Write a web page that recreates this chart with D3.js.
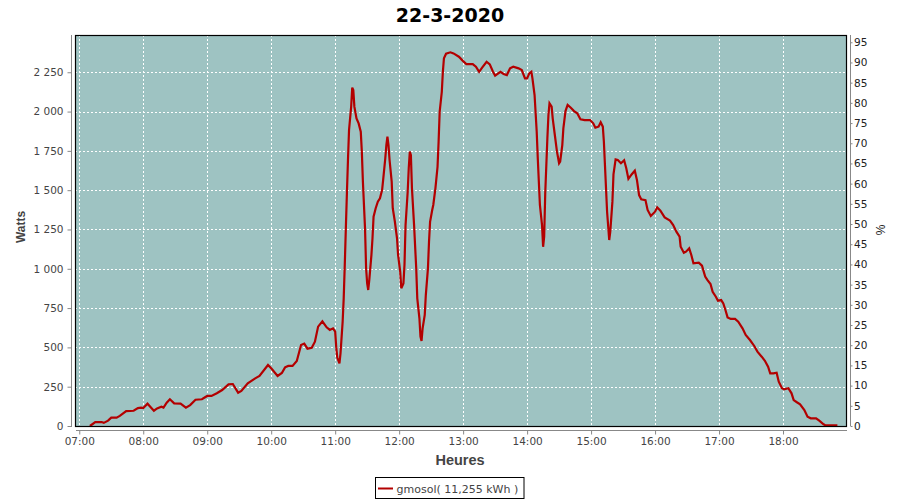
<!DOCTYPE html>
<html>
<head>
<meta charset="utf-8">
<script src="https://cdn.jsdelivr.net/npm/d3@7"></script>
<style>
  html, body { margin: 0; padding: 0; background: #ffffff; }
  svg { display: block; }
</style>
</head>
<body>
<svg id="chart" width="900" height="500"></svg>
<script>
const chartTitle = "22-3-2020";
const seriesName = "gmosol( 11,255 kWh )";
const yLabel = "Watts";
const xLabel = "Heures";
const y2Label = "%";

const hourTicks = ["07:00","08:00","09:00","10:00","11:00","12:00","13:00","14:00","15:00","16:00","17:00","18:00"];
const wattTicks = [0, 250, 500, 750, 1000, 1250, 1500, 1750, 2000, 2250];
const pctTicks = [0,5,10,15,20,25,30,35,40,45,50,55,60,65,70,75,80,85,90,95];

const times = [
"07:10","07:15","07:21","07:23","07:27","07:30","07:35","07:38","07:44","07:51","07:55","07:58",
"08:00","08:04","08:07","08:10","08:13","08:17","08:19","08:22","08:25","08:29","08:35","08:40","08:44","08:49","08:55",
"09:00","09:04","09:09","09:14","09:20","09:24","09:29","09:32","09:38","09:45","09:49","09:57",
"10:00","10:06","10:10","10:13","10:16","10:20","10:24","10:28","10:31","10:34","10:38","10:41","10:44","10:48","10:52","10:55","10:58",
"11:00","11:01","11:02","11:04","11:05","11:07","11:08","11:09","11:10","11:11","11:12","11:13","11:15","11:16","11:17","11:18","11:20","11:22","11:24","11:25","11:26","11:28","11:29","11:30","11:31","11:32","11:34","11:35","11:36","11:38","11:40","11:42","11:44","11:45","11:47","11:48","11:49","11:50","11:51","11:53","11:54","11:56","11:58","11:59",
"12:01","12:02","12:04","12:05","12:06","12:08","12:09","12:10","12:11","12:12","12:14","12:16","12:17","12:19","12:20","12:21","12:22","12:24","12:25","12:27","12:28","12:29","12:31","12:32","12:34","12:36","12:37","12:38","12:40","12:41","12:42","12:44","12:48","12:51","12:56",
"13:00","13:03","13:09","13:12","13:15","13:18","13:22","13:25","13:28","13:30","13:35","13:38","13:41","13:44","13:47","13:52","13:55","13:58",
"14:00","14:02","14:04","14:05","14:07","14:08","14:09","14:10","14:11","14:12","14:14","14:15","14:16","14:17","14:19","14:20","14:21","14:23","14:24","14:26","14:28","14:30","14:31","14:33","14:34","14:36","14:38","14:41","14:44","14:47","14:50","14:54","14:59",
"15:02","15:04","15:07","15:09","15:11","15:12","15:13","15:14","15:15","15:17","15:18","15:20","15:21","15:23","15:25","15:28","15:31","15:33","15:35","15:38","15:41","15:43","15:45","15:47","15:51","15:53","15:56",
"16:00","16:02","16:05","16:09","16:14","16:17","16:20","16:23","16:24","16:27","16:29","16:32","16:34","16:36","16:41","16:44","16:47","16:49","16:52","16:54","16:57","16:59",
"17:02","17:04","17:06","17:08","17:11","17:15","17:18","17:22","17:25","17:29","17:33","17:36","17:40","17:43","17:46","17:48","17:51","17:54","17:56","17:59",
"18:01","18:05","18:08","18:10","18:13","18:16","18:20","18:23","18:26","18:31","18:34","18:38","18:40","18:51"
];
const watts = [
0,25,25,20,34,53,53,64,95,97,114,117,
114,142,119,97,112,123,117,148,170,144,142,117,133,167,170,
191,191,208,229,265,267,212,223,272,303,318,388,
367,318,337,373,382,382,413,515,524,492,498,536,632,666,628,611,621,
600,500,434,398,462,663,812,1024,1257,1480,1692,1883,2031,2152,2137,2031,1957,1925,1872,1745,1554,1257,1003,907,865,929,1088,1194,1331,1385,1427,1448,1501,1565,1703,1787,1840,1787,1692,1554,1385,1299,1194,1088,
981,876,907,1024,1278,1490,1639,1745,1723,1512,1278,1003,812,685,568,541,621,706,833,1003,1172,1299,1374,1406,1512,1649,1808,1999,2126,2253,2339,2368,2377,2370,2349,
2321,2302,2302,2285,2253,2281,2317,2300,2253,2228,2253,2239,2232,2275,2285,2275,2264,2211,
2211,2243,2253,2211,2105,1989,1872,1703,1554,1406,1278,1140,1204,1480,1830,1978,2052,2031,1957,1851,1745,1671,1681,1787,1893,2003,2042,2024,2003,1989,1951,1946,1946,
1925,1897,1904,1932,1904,1808,1660,1512,1363,1183,1236,1427,1600,1696,1692,1671,1690,1640,1572,1600,1624,1565,1469,1442,1437,1374,1336,
1363,1391,1369,1327,1306,1278,1236,1204,1140,1102,1109,1130,1088,1035,1039,1020,950,929,903,854,822,797,
801,780,738,691,681,681,663,621,579,547,509,473,441,415,377,335,335,339,282,240,
233,240,208,165,151,138,102,59,49,49,34,11,4,4
];

const xDomain = ["06:56", "19:00"];
const wattMax = 2487;
const pctMax = 96.8;

const toMin = s => { const p = s.split(":"); return +p[0] * 60 + +p[1]; };
const fmtHM = m => String(Math.floor(m / 60)).padStart(2, "0") + ":" + String(m % 60).padStart(2, "0");

const svg = d3.select("#chart");
const pL = 75, pR = 847, pT = 35, pB = 426;

const x = d3.scaleLinear().domain(xDomain.map(toMin)).range([pL, pR]);
const y = d3.scaleLinear().domain([0, wattMax]).range([pB, pT]);
const y2 = d3.scaleLinear().domain([0, pctMax]).range([pB, pT]);

const data = times.map((t, i) => ({ t: toMin(t), w: watts[i] }));

// plot background
svg.append("rect")
  .attr("x", pL).attr("y", pT)
  .attr("width", pR - pL).attr("height", pB - pT)
  .attr("fill", "#9ec3c2");

// grid
const grid = svg.append("g").attr("stroke", "#ffffff").attr("stroke-width", 1)
  .attr("stroke-dasharray", "2,2").attr("shape-rendering", "crispEdges");
grid.selectAll(".gx").data(hourTicks.map(toMin)).enter().append("line")
  .attr("x1", d => Math.round(x(d)) + 0.5).attr("x2", d => Math.round(x(d)) + 0.5)
  .attr("y1", pT).attr("y2", pB);
grid.selectAll(".gy").data(wattTicks.filter(d => d > 0)).enter().append("line")
  .attr("x1", pL).attr("x2", pR)
  .attr("y1", d => Math.round(y(d)) + 0.5).attr("y2", d => Math.round(y(d)) + 0.5);

// line
const line = d3.line().x(d => x(d.t)).y(d => y(d.w));
svg.append("path").datum(data)
  .attr("d", line)
  .attr("fill", "none")
  .attr("stroke", "#b30000")
  .attr("stroke-width", 2.2)
  .attr("stroke-linejoin", "miter");

// plot border
svg.append("rect")
  .attr("x", pL + 0.5).attr("y", pT + 0.5)
  .attr("width", pR - pL - 1).attr("height", pB - pT)
  .attr("fill", "none").attr("stroke", "#000").attr("stroke-width", 1.2);

// axes
const fmtW = d => d3.format(",")(d).replace(/,/g, "\u00a0");
const axL = svg.append("g").attr("transform", "translate(71.5,0)")
  .call(d3.axisLeft(y).tickValues(wattTicks).tickFormat(d => fmtW(d)).tickSizeInner(4).tickSizeOuter(0).tickPadding(4));
const axB = svg.append("g").attr("transform", "translate(0,430.5)")
  .call(d3.axisBottom(x).tickValues(hourTicks.map(toMin)).tickFormat(fmtHM).tickSizeInner(4).tickSizeOuter(0).tickPadding(3));
const axR = svg.append("g").attr("transform", "translate(850.5,0)")
  .call(d3.axisRight(y2).tickValues(pctTicks).tickSizeInner(2).tickSizeOuter(0).tickPadding(1.5));

[axL, axB, axR].forEach(a => {
  a.select(".domain").attr("stroke", "#888");
  a.selectAll(".tick line").attr("stroke", "#888");
  a.selectAll("text").attr("font-family", "DejaVu Sans").attr("font-size", "10.5px").attr("fill", "#444");
});
axL.select(".domain").attr("d", `M0,${pT}V${pB + 1}`);
axB.select(".domain").attr("d", `M${pL + 1},0H${pR}`);
axR.select(".domain").attr("d", `M0,${pT}V${pB}`);
axR.selectAll("text").attr("fill", "#222");

// title
svg.append("text").attr("x", 450).attr("y", 22).attr("text-anchor", "middle")
  .attr("font-family", "DejaVu Sans").attr("font-weight", "bold").attr("font-size", "19px")
  .attr("fill", "#000").text(chartTitle);

// axis labels
svg.append("text").attr("x", 460).attr("y", 464.5).attr("text-anchor", "middle")
  .attr("font-family", "Liberation Sans").attr("font-weight", "bold").attr("font-size", "14.5px")
  .attr("fill", "#444").text(xLabel);
svg.append("text").attr("transform", "translate(25,227) rotate(-90)").attr("text-anchor", "middle")
  .attr("font-family", "Liberation Sans").attr("font-weight", "bold").attr("font-size", "12px")
  .attr("fill", "#444").text(yLabel);
svg.append("text").attr("transform", "translate(885,230) rotate(-90)").attr("text-anchor", "middle")
  .attr("font-family", "Liberation Sans").attr("font-size", "12px")
  .attr("fill", "#222").text(y2Label);

// legend
const lg = svg.append("g");
lg.append("rect").attr("x", 375.5).attr("y", 477.5).attr("width", 148.5).attr("height", 21)
  .attr("fill", "#fff").attr("stroke", "#000").attr("stroke-width", 1);
lg.append("line").attr("x1", 378).attr("x2", 393).attr("y1", 488.5).attr("y2", 488.5)
  .attr("stroke", "#b30000").attr("stroke-width", 2);
lg.append("text").attr("x", 396.5).attr("y", 493)
  .attr("font-family", "DejaVu Sans").attr("font-size", "11px").attr("fill", "#444").text(seriesName);
</script>
</body>
</html>
